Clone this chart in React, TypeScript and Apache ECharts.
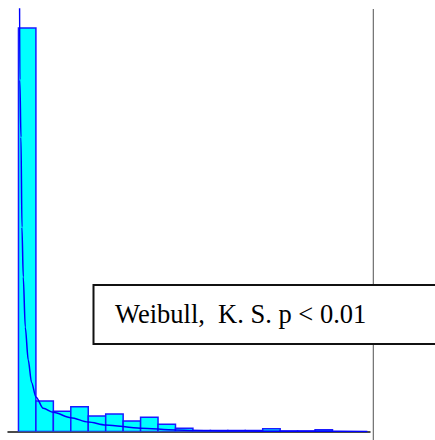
import React, { useEffect, useRef } from "react";
import * as echarts from "echarts";

// Histogram bins (bin width = 1 unit), relative frequency in %
const binStarts = [0, 1, 2, 3, 4, 5, 6, 7, 8, 9, 10, 11, 12, 13, 14, 15, 16, 17];
const binValues = [72.3, 5.46, 3.64, 4.44, 2.78, 3.13, 1.88, 2.54, 1.29, 0.57, 0.18, 0.18, 0.18, 0.18, 0.5, 0.1, 0.1, 0.3];

// Fitted Weibull density
const curveX = [0.05, 0.08, 0.143, 0.2, 0.275, 0.39, 0.56, 0.75, 1.0, 1.42, 2.0, 3.0, 4.0, 5.0, 7.0, 9.0, 10.0, 12.0, 14.0, 17.0, 20.0];
const curveY = [90, 63, 52.7, 36.6, 27.7, 18.7, 12.8, 8.8, 6.2, 4.16, 3.44, 2.47, 1.7, 1.16, 0.6, 0.27, 0.18, 0.1, 0.06, 0.03, 0.01];

const labelText = "Weibull,  K. S. p < 0.01";

export default function App() {
  const ref = useRef<HTMLDivElement>(null);
  useEffect(() => {
    if (!ref.current) return;
    const chart = echarts.init(ref.current, undefined, { renderer: "svg" });
    const bars = binStarts.map((s, i) => [s, s + 1, binValues[i]]);
    const curve = curveX.map((x, i) => [x, curveY[i]]);
    chart.setOption({
      animation: false,
      grid: { left: 8, right: 65, top: 9, bottom: 8.5, containLabel: false },
      xAxis: {
        type: "value",
        min: -0.6,
        max: 20.15,
        axisLine: { show: true, onZero: false, lineStyle: { color: "#111", width: 1.5 } },
        axisTick: { show: false },
        axisLabel: { show: false },
        splitLine: { show: false },
      },
      yAxis: {
        type: "value",
        min: 0,
        max: 75.7,
        axisLine: { show: false },
        axisTick: { show: false },
        axisLabel: { show: false },
        splitLine: { show: false },
      },
      series: [
        {
          type: "custom",
          data: bars,
          clip: true,
          renderItem: (params: any, api: any) => {
            const p0 = api.coord([api.value(0), 0]);
            const p1 = api.coord([api.value(1), api.value(2)]);
            return {
              type: "rect",
              shape: { x: p0[0], y: p1[1], width: p1[0] - p0[0], height: p0[1] - p1[1] },
              style: { fill: "#00ffff", stroke: "#1a1aff", lineWidth: 1.5 },
            };
          },
          z: 2,
        },
        {
          type: "line",
          data: curve,
          showSymbol: false,
          symbol: "none",
          smooth: 0.3,
          smoothMonotone: "x",
          clip: true,
          lineStyle: { color: "#0000ff", width: 1.5 },
          z: 3,
        },
      ],
      graphic: [
        { type: "line", z: 10, shape: { x1: 372.5, y1: 9, x2: 372.5, y2: 440 }, style: { stroke: "#d8d8d8", lineWidth: 1 } },
        { type: "line", z: 10, shape: { x1: 373.5, y1: 9, x2: 373.5, y2: 440 }, style: { stroke: "#777777", lineWidth: 1 } },
        {
          type: "rect",
          z: 20,
          shape: { x: 93.5, y: 285, width: 400, height: 59 },
          style: { fill: "#ffffff", stroke: "#111111", lineWidth: 2 },
        },
        {
          type: "text",
          z: 21,
          x: 115,
          y: 314,
          style: {
            text: labelText,
            fill: "#000000",
            font: "26.5px 'Liberation Serif', 'Times New Roman', serif",
            verticalAlign: "middle",
            align: "left",
          },
        },
      ],
    });
    return () => chart.dispose();
  }, []);
  return <div ref={ref} style={{ position: "absolute", left: 0, top: 0, width: 435, height: 440 }} />;
}
